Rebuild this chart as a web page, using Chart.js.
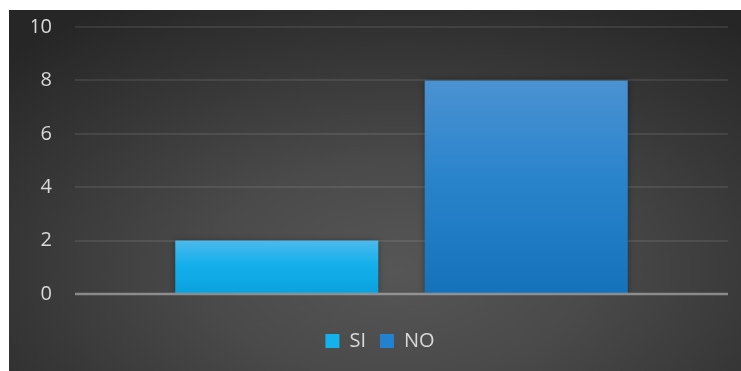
<!DOCTYPE html>
<html>
<head>
<meta charset="utf-8">
<script src="https://cdn.jsdelivr.net/npm/chart.js@4/dist/chart.umd.min.js"></script>
<style>
  html, body { margin: 0; padding: 0; background: #ffffff; width: 741px; height: 371px; overflow: hidden; }
  #panel {
    position: absolute; left: 9px; top: 10px; width: 732px; height: 361px;
    background: radial-gradient(ellipse 75% 85% at 53% 72%, #565656 0%, #4a4a4a 35%, #363636 70%, #262626 100%);
  }
  canvas { display: block; }
</style>
</head>
<body>
<div id="panel"><canvas id="c" width="732" height="361"></canvas></div>
<script>
const categories = [''];
const seriesNames = ['SI', 'NO'];
const siValues = [2];
const noValues = [8];
const yTicks = [0, 2, 4, 6, 8, 10];

const siStops = ['#4cb9ec', '#14b0ec', '#0aa2de'];
const noStops = ['#4b92d2', '#2a84cc', '#1472bb'];
const siLegend = '#14b2ec';
const noLegend = '#2382d0';

function barGradient(stops) {
  return function (ctx) {
    const chart = ctx.chart;
    if (!chart.chartArea || ctx.type !== 'data') return stops[1];
    const ys = chart.scales.y;
    const top = ys.getPixelForValue(ctx.raw);
    const base = ys.getPixelForValue(0);
    if (!isFinite(top) || !isFinite(base) || top === base) return stops[1];
    const g = chart.ctx.createLinearGradient(0, top, 0, base);
    g.addColorStop(0, stops[0]);
    g.addColorStop(0.45, stops[1]);
    g.addColorStop(1, stops[2]);
    return g;
  };
}

const shadowPlugin = {
  id: 'barShadow',
  beforeDatasetsDraw(chart) {
    const c = chart.ctx;
    c.save();
    c.shadowColor = 'rgba(0,0,0,0.35)';
    c.shadowBlur = 6;
  },
  afterDatasetsDraw(chart) {
    const c = chart.ctx;
    c.restore();
    const ys = chart.scales.y;
    const ca = chart.chartArea;
    const y0 = ys.getPixelForValue(0);
    c.save();
    c.strokeStyle = 'rgba(190,190,190,0.6)';
    c.lineWidth = 2.5;
    c.beginPath();
    c.moveTo(ca.left, y0);
    c.lineTo(ca.right, y0);
    c.stroke();
    c.restore();
  }
};

new Chart(document.getElementById('c'), {
  type: 'bar',
  data: {
    labels: categories,
    datasets: [
      { label: seriesNames[0], data: siValues, backgroundColor: barGradient(siStops), legendColor: siLegend,
        categoryPercentage: 0.764, barPercentage: 0.814, borderWidth: 0 },
      { label: seriesNames[1], data: noValues, backgroundColor: barGradient(noStops), legendColor: noLegend,
        categoryPercentage: 0.764, barPercentage: 0.814, borderWidth: 0 }
    ]
  },
  options: {
    responsive: false,
    animation: false,
    devicePixelRatio: 1,
    layout: { padding: { left: 23, right: 13, top: 17, bottom: 10 } },
    scales: {
      x: {
        display: true,
        grid: { display: false },
        border: { display: false },
        ticks: { display: false },
        afterFit: s => { s.height = 23; }
      },
      y: {
        min: 0, max: 10,
        afterFit: s => { s.width = 43; },
        afterBuildTicks: s => { s.ticks = yTicks.map(v => ({ value: v })); },
        border: { display: false },
        grid: {
          color: ctx => ctx.tick && ctx.tick.value === 0 ? 'rgba(0,0,0,0)' : 'rgba(255,255,255,0.085)',
          lineWidth: 2,
          drawTicks: true,
          tickLength: 23,
          tickColor: 'rgba(0,0,0,0)'
        },
        ticks: {
          padding: 0,
          color: '#d9d9d9',
          font: { family: 'Open Sans', size: 20 }
        }
      }
    },
    plugins: {
      tooltip: { enabled: false },
      legend: {
        position: 'bottom',
        labels: {
          color: '#d9d9d9',
          font: { family: 'Open Sans', size: 20 },
          boxWidth: 14,
          boxHeight: 14,
          padding: 14,
          generateLabels(chart) {
            const items = Chart.defaults.plugins.legend.labels.generateLabels(chart);
            items.forEach(it => {
              const ds = chart.data.datasets[it.datasetIndex];
              it.fillStyle = ds.legendColor;
              it.strokeStyle = ds.legendColor;
              it.lineWidth = 0;
            });
            return items;
          }
        }
      }
    }
  },
  plugins: [shadowPlugin]
});
</script>
</body>
</html>
